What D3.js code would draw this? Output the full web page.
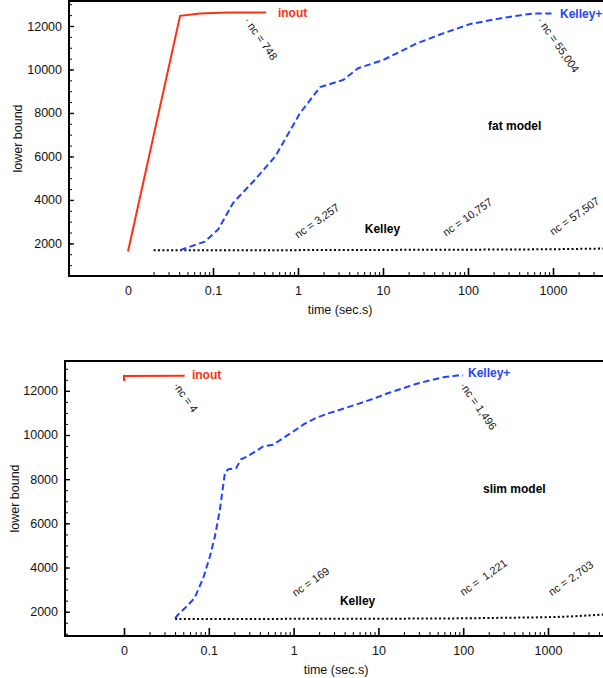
<!DOCTYPE html>
<html><head><meta charset="utf-8">
<script src="https://cdn.jsdelivr.net/npm/d3@7/dist/d3.min.js"></script>
<style>
body{margin:0;background:#fff}
svg text{font-family:"Liberation Sans",Arial,Helvetica,sans-serif}
</style>
</head><body>
<svg id="c" width="603" height="678"></svg>
<script>
// ---------- data ----------
const xTickValues = [0.01, 0.1, 1, 10, 100, 1000];
const xTickLabels = ["0", "0.1", "1", "10", "100", "1000"];
const yTickValues = [2000, 4000, 6000, 8000, 10000, 12000];
const xTitle = "time (sec.s)";
const yTitle = "lower bound";

// fat model  [time, lower bound]
const fatInout = [[0.01,1630],[0.041,12470],[0.07,12580],[0.15,12620],[0.42,12620]];
const fatKelleyPlus = [[0.041,1690],[0.08,2080],[0.115,2640],[0.173,3870],[0.3,4860],[0.54,6000],
  [1.06,8000],[1.82,9190],[3.4,9520],[5.1,10060],[10.1,10440],[25,11200],[51,11660],
  [106,12090],[238,12350],[590,12580],[960,12580]];
const fatKelley = [[0.02,1690],[1,1690],[10,1700],[100,1710],[1000,1730],[4000,1765]];
const fatLabels = ["inout","Kelley+","Kelley","fat model"];
const fatLabelT = [0.58, 1208, 6.1, 172];
const fatLabelV = [12410, 12370, 2480, 7230];
const fatNotes  = ["· nc = 748", "· nc = 55,004", "nc = 3,257", "nc = 10,757", "nc = 57,507"];
const fatNoteT  = [0.228, 640, 1.0, 55, 1000];
const fatNoteV  = [12250, 12250, 2210, 2300, 2350];

// slim model
const slimInout = [[0.01,12450],[0.01,12670],[0.052,12680]];
const slimKelleyPlus = [[0.04,1700],[0.043,1850],[0.055,2240],[0.068,2620],[0.086,3520],[0.103,4500],
  [0.118,5400],[0.135,6600],[0.155,8300],[0.17,8450],[0.21,8500],[0.24,8900],[0.291,9050],
  [0.438,9480],[0.574,9560],[0.753,9860],[0.99,10160],[1.34,10500],[1.85,10780],[2.68,11000],
  [3.85,11190],[5.79,11410],[8.71,11640],[13.1,11900],[19.7,12120],[28.3,12320],[40.6,12470],
  [58.4,12610],[84,12690],[100,12690]];
const slimKelley = [[0.04,1670],[10,1680],[100,1700],[1000,1750],[2000,1790],[4500,1870]];
const slimLabels = ["inout","Kelley+","Kelley","slim model"];
const slimLabelT = [0.0633, 114, 3.52, 171];
const slimLabelV = [12540, 12630, 2320, 7385];
const slimNotes  = ["·nc = 4", "·nc = 1,496", "nc = 169", "nc =  1,221", "nc = 2,703"];
const slimNoteT  = [0.0375, 90, 1.05, 100, 1110];
const slimNoteV  = [12240, 12240, 2660, 2700, 2700];

// ---------- drawing ----------
const RED = "#ff3012", BLUE = "#1f44ff";
const svg = d3.select("#c");

function drawPanel(p){
  const g = svg.append("g");
  const x = d3.scaleLog().domain([0.01, 1000]).range([p.x0, p.x1]);
  const y = d3.scaleLinear().domain(p.yDomain).range([p.bottom, p.top]);
  const right = 603;

  // minor x ticks
  const xMinor = [];
  for (let e = -2; e <= 3; e++) for (let k = 2; k <= 9; k++) xMinor.push(k * Math.pow(10, e));
  g.append("g").attr("transform", `translate(0,${p.bottom})`)
    .call(d3.axisBottom(x).tickValues(xMinor).tickSize(-4).tickFormat(""))
    .call(a => a.select(".domain").remove())
    .selectAll("line").attr("stroke", "#000").attr("stroke-width", 1);
  // major x ticks
  const xa = g.append("g").attr("transform", `translate(0,${p.bottom})`)
    .call(d3.axisBottom(x).tickValues(xTickValues).tickSize(-8).tickPadding(10)
      .tickFormat((d, i) => xTickLabels[i]))
    .call(a => a.select(".domain").remove());
  xa.selectAll("line").attr("stroke", "#000").attr("stroke-width", 1.6);
  if (!p.zeroTick) xa.selectAll(".tick").filter(d => d === 0.01).select("line").remove();
  xa.selectAll("text").attr("font-size", 12.5).attr("fill", "#111")
    .style("font-family", '"Liberation Sans", Arial, sans-serif');

  // y ticks
  const yMinor = d3.range(1000, 13001, 500);
  g.append("g").attr("transform", `translate(${p.left},0)`)
    .call(d3.axisLeft(y).tickValues(yMinor).tickSize(-3).tickFormat(""))
    .call(a => a.select(".domain").remove())
    .selectAll("line").attr("stroke", "#000");
  const ya = g.append("g").attr("transform", `translate(${p.left},0)`)
    .call(d3.axisLeft(y).tickValues(yTickValues).tickSize(-5).tickPadding(7).tickFormat(d3.format("d")))
    .call(a => a.select(".domain").remove());
  ya.selectAll("line").attr("stroke", "#000").attr("stroke-width", 1.3);
  ya.selectAll("text").attr("font-size", 12.5).attr("fill", "#111")
    .style("font-family", '"Liberation Sans", Arial, sans-serif');

  // frame
  const fr = g.append("g").attr("stroke", "#000").attr("stroke-width", 2).attr("fill", "none");
  fr.append("line").attr("x1", p.left).attr("x2", right + 5).attr("y1", p.top).attr("y2", p.top);
  fr.append("line").attr("x1", p.left).attr("x2", right + 5).attr("y1", p.bottom).attr("y2", p.bottom);
  fr.append("line").attr("x1", p.left).attr("x2", p.left).attr("y1", p.top - 1).attr("y2", p.bottom + 1);

  // axis titles
  g.append("text").attr("x", p.xTitleX).attr("y", p.bottom + 38).attr("text-anchor", "middle")
    .attr("font-size", 12.5).attr("fill", "#111").text(xTitle);
  g.append("text").attr("transform", `translate(${p.yTitleX},${(p.top + p.bottom) / 2})rotate(-90)`)
    .attr("text-anchor", "middle").attr("font-size", 12.5).attr("fill", "#111").text(yTitle);

  // lines
  const line = d3.line().x(d => x(d[0])).y(d => y(d[1]));
  g.append("path").datum(p.kelley).attr("d", line).attr("fill", "none")
    .attr("stroke", "#000").attr("stroke-width", 2).attr("stroke-dasharray", "2,2.4");
  g.append("path").datum(p.kelleyPlus).attr("d", line).attr("fill", "none")
    .attr("stroke", BLUE).attr("stroke-width", 2).attr("stroke-dasharray", "6.5,3.5");
  g.append("path").datum(p.inout).attr("d", line).attr("fill", "none")
    .attr("stroke", RED).attr("stroke-width", 2);

  // series labels
  const labelColors = [RED, BLUE, "#000", "#000"];
  p.labels.forEach((t, i) => {
    g.append("text").attr("x", x(p.labelT[i])).attr("y", y(p.labelV[i]))
      .attr("font-size", 12).attr("font-weight", "bold").attr("fill", labelColors[i]).text(t);
  });
  // nc annotations
  const angles = [55, 55, -35, -35, -35];
  p.notes.forEach((t, i) => {
    g.append("text").attr("transform", `translate(${x(p.noteT[i])},${y(p.noteV[i])})rotate(${angles[i]})`)
      .attr("font-size", 11).attr("fill", "#111").attr("xml:space", "preserve")
      .style("white-space", "pre").text(t);
  });
}

drawPanel({left: 69, top: 1, bottom: 276, x0: 128, x1: 553, yDomain: [500, 13150], zeroTick: false,
  xTitleX: 340, yTitleX: 22,
  inout: fatInout, kelleyPlus: fatKelleyPlus, kelley: fatKelley,
  labels: fatLabels, labelT: fatLabelT, labelV: fatLabelV,
  notes: fatNotes, noteT: fatNoteT, noteV: fatNoteV});

drawPanel({left: 65, top: 361, bottom: 636, x0: 124, x1: 548, yDomain: [900, 13350], zeroTick: true,
  xTitleX: 336, yTitleX: 19,
  inout: slimInout, kelleyPlus: slimKelleyPlus, kelley: slimKelley,
  labels: slimLabels, labelT: slimLabelT, labelV: slimLabelV,
  notes: slimNotes, noteT: slimNoteT, noteV: slimNoteV});
</script>
</body></html>
